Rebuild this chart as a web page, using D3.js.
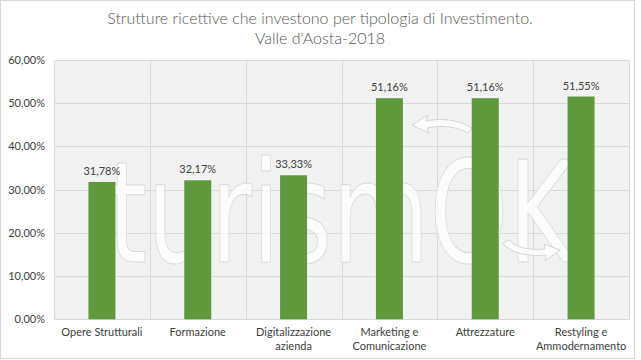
<!DOCTYPE html>
<html><head><meta charset="utf-8">
<script src="https://cdn.jsdelivr.net/npm/d3@7"></script>
<style>
html,body{margin:0;padding:0;background:#fff;}
svg text{font-family:"Lato","Open Sans",sans-serif;}
</style></head>
<body>
<svg id="c" width="641" height="360"></svg>
<script>
const categories = [["Opere Strutturali"],["Formazione"],["Digitalizzazione","azienda"],["Marketing e","Comunicazione"],["Attrezzature"],["Restyling e","Ammodernamento"]];
const values = [31.78, 32.17, 33.33, 51.16, 51.16, 51.55];
const yTicks = [0,10,20,30,40,50,60];
const titleLines = ["Strutture ricettive che investono per tipologia di Investimento.","Valle d'Aosta-2018"];

const svg = d3.select("#c");
const m = {left:54, right:629, top:60, bottom:319.3};
const fmt = v => v.toFixed(2).replace(".", ",") + "%";

svg.append("rect").attr("x",0.5).attr("y",0.5).attr("width",634).attr("height",358).attr("fill","#fff").attr("stroke","#d9d9d9");

const x = d3.scaleBand().domain(d3.range(categories.length)).range([m.left,m.right]).paddingInner(0).paddingOuter(0);
const y = d3.scaleLinear().domain([0,60]).range([m.bottom,m.top]);

svg.append("rect").attr("x",m.left).attr("y",m.top).attr("width",m.right-m.left).attr("height",m.bottom-m.top).attr("fill","#f2f2f2");

// grid
const g = svg.append("g");
g.selectAll(".hg").data(yTicks).join("line").attr("x1",m.left).attr("x2",m.right)
 .attr("y1",d=>Math.round(y(d))+0.5).attr("y2",d=>Math.round(y(d))+0.5).attr("stroke","#d9d9d9");
g.selectAll(".vg").data(d3.range(categories.length+1)).join("line")
 .attr("x1",d=>Math.round(m.left + d*x.step())+0.5).attr("x2",d=>Math.round(m.left + d*x.step())+0.5)
 .attr("y1",m.top).attr("y2",m.bottom).attr("stroke","#d9d9d9");

// watermark
const wm = svg.append("g").attr("opacity",0.8);
wm.append("text").attr("x",108).attr("y",262).attr("textLength",466).attr("lengthAdjust","spacingAndGlyphs")
 .style("font-family","'DejaVu Sans'").style("font-size","140px").style("font-weight","400")
 .attr("fill","#fff").attr("stroke","#d6d6d6").attr("stroke-width",1).text("turismOK");
wm.append("path").attr("d","M472,128 C458,119 438,118 426,121 L428,115 L412,125 L429,133 L427,128 C440,125 456,126 468,133 Z")
 .attr("fill","#fff").attr("stroke","#d0d0d0");
wm.append("path").attr("d","M503,243 C510,253 528,257 546,255 L545,261 L560,250 L544,244 L545,249 C530,251 515,247 509,240 Z")
 .attr("fill","#fff").attr("stroke","#d0d0d0");

// bars
const bw = 27;
svg.selectAll(".bar").data(values).join("rect")
 .attr("x",(d,i)=>x(i)+x.bandwidth()/2-bw/2).attr("width",bw)
 .attr("y",d=>y(d)).attr("height",d=>y(0)-y(d)).attr("fill","#5e9a3c");

// data labels
svg.selectAll(".lbl").data(values).join("text")
 .attr("x",(d,i)=>x(i)+x.bandwidth()/2).attr("y",d=>y(d)-7)
 .attr("text-anchor","middle").attr("fill","#404040").style("font-size","11px").text(fmt);

// y axis labels
svg.selectAll(".yl").data(yTicks).join("text")
 .attr("x",45).attr("y",d=>y(d)+4).attr("text-anchor","end").attr("fill","#404040")
 .style("font-size","11px").text(d=>fmt(d));

// x labels
const xl = svg.selectAll(".xl").data(categories).join("text")
 .attr("x",(d,i)=>x(i)+x.bandwidth()/2).attr("y",336).attr("text-anchor","middle")
 .attr("fill","#404040").style("font-size","11px");
xl.each(function(d){
  const t=d3.select(this);
  d.forEach((line,j)=>t.append("tspan").attr("x",t.attr("x")).attr("dy",j?14:0).text(line));
});

// title
svg.selectAll(".tt").data(titleLines).join("text")
 .attr("x",320).attr("y",(d,i)=>24+i*20).attr("text-anchor","middle").attr("fill","#595959")
 .style("font-size","16px").style("font-weight","300").text(d=>d);
</script>
</body></html>
